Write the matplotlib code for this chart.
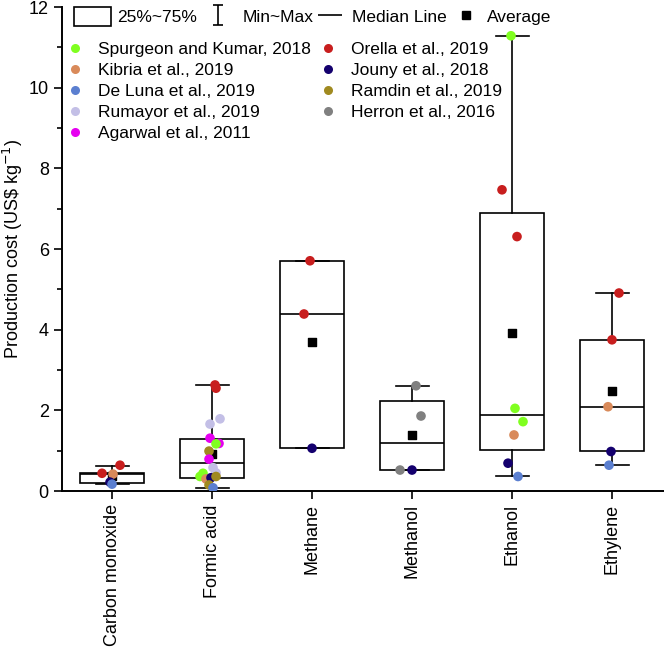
import matplotlib
matplotlib.use("Agg")
import matplotlib.pyplot as plt
from matplotlib.lines import Line2D
from matplotlib.patches import Rectangle
from matplotlib.path import Path
from matplotlib.ticker import MultipleLocator

plt.rcParams['font.family'] = ['Liberation Sans', 'DejaVu Sans']
plt.rcParams['font.size'] = 12.5

# categories on the x axis
products = ['Carbon monoxide', 'Formic acid', 'Methane', 'Methanol', 'Ethanol', 'Ethylene']

# box statistics (US$ per kg)
q1 = [0.21, 0.33, 1.06, 0.52, 1.02, 0.98]
median = [0.41, 0.69, 4.39, 1.18, 1.89, 2.09]
q3 = [0.45, 1.28, 5.71, 2.23, 6.89, 3.75]
whisk_lo = [0.17, 0.08, 1.06, 0.52, 0.36, 0.64]
whisk_hi = [0.63, 2.62, 5.71, 2.61, 11.29, 4.91]
average = [0.38, 0.93, 3.70, 1.39, 3.91, 2.48]

# literature sources and their colours
sources = ['Spurgeon and Kumar, 2018', 'Kibria et al., 2019', 'De Luna et al., 2019',
           'Rumayor et al., 2019', 'Agarwal et al., 2011', 'Orella et al., 2019',
           'Jouny et al., 2018', 'Ramdin et al., 2019', 'Herron et al., 2016']
colors = ['#80FF20', '#D98A5A', '#5B7FD0', '#C3BFE6', '#E600F0',
          '#C81E1E', '#14006E', '#A08A20', '#808080']

# individual reported values: product index, source index, value, small jitter
pt_product = [0, 0, 0, 0, 0,
              1, 1, 1, 1, 1, 1, 1, 1, 1, 1, 1, 1, 1, 1, 1, 1, 1, 1,
              2, 2, 2,
              3, 3, 3, 3,
              4, 4, 4, 4, 4, 4, 4, 4,
              5, 5, 5, 5, 5]
pt_source = [5, 5, 1, 6, 2,
             5, 5, 3, 3, 4, 4, 0, 7, 4, 3, 3, 0, 0, 1, 6, 7, 7, 2,
             5, 5, 6,
             8, 8, 8, 6,
             0, 5, 5, 0, 0, 1, 6, 2,
             5, 5, 1, 6, 2]
pt_value = [0.64, 0.44, 0.42, 0.22, 0.17,
            2.63, 2.55, 1.79, 1.66, 1.31, 1.18, 1.17, 0.99, 0.79, 0.58, 0.45, 0.44, 0.36,
            0.30, 0.33, 0.36, 0.15, 0.08,
            5.71, 4.39, 1.06,
            2.61, 1.86, 0.52, 0.52,
            11.29, 7.47, 6.31, 2.05, 1.72, 1.39, 0.69, 0.36,
            4.91, 3.75, 2.09, 0.98, 0.64]
pt_jitter = [0.08, -0.10, 0.01, -0.02, 0.0,
             0.03, 0.04, 0.08, -0.02, -0.02, 0.07, 0.04, -0.03, -0.03, 0.01, 0.04, -0.09, -0.12,
             -0.06, -0.01, 0.04, -0.03, 0.01,
             -0.02, -0.08, 0.0,
             0.04, 0.09, -0.12, 0.0,
             -0.01, -0.10, 0.05, 0.03, 0.11, 0.02, -0.04, 0.06,
             0.07, 0.0, -0.04, -0.01, -0.03]

fig = plt.figure(figsize=(6.64, 6.5), dpi=100)
ax = fig.add_axes([0.0934, 0.2446, 0.9066, 0.7444])

positions = list(range(1, len(products) + 1))
stats = []
for i in range(len(products)):
    stats.append({'q1': q1[i], 'med': median[i], 'q3': q3[i],
                  'whislo': whisk_lo[i], 'whishi': whisk_hi[i], 'fliers': []})

lw = 1.2
ax.bxp(stats, positions=positions, widths=0.64, showfliers=False, patch_artist=True,
       boxprops=dict(facecolor='white', edgecolor='black', linewidth=lw),
       medianprops=dict(color='black', linewidth=lw),
       whiskerprops=dict(color='black', linewidth=lw),
       capprops=dict(color='black', linewidth=lw), capwidths=0.33, zorder=2)

ax.scatter(positions, average, marker='s', s=30, color='black', zorder=3)

xs = [positions[p] + j for p, j in zip(pt_product, pt_jitter)]
pt_colors = [colors[s] for s in pt_source]
ax.scatter(xs, pt_value, s=48, c=pt_colors, edgecolors='none', zorder=4)

ax.set_xlim(0.5, 6.52)
ax.set_ylim(0, 12)
ax.set_xticks(positions)
ax.set_xticklabels(products, rotation=90, fontsize=13)
ax.yaxis.set_major_locator(MultipleLocator(2))
ax.yaxis.set_minor_locator(MultipleLocator(1))
ax.tick_params(axis='y', labelsize=13)
ax.tick_params(axis='both', which='major', length=6, width=1.2, direction='out')
ax.tick_params(axis='y', which='minor', length=3.5, width=1.2, direction='out')
ax.spines['top'].set_visible(False)
ax.spines['right'].set_visible(False)
ax.spines['left'].set_linewidth(1.4)
ax.spines['bottom'].set_linewidth(1.4)
ax.set_ylabel('Production cost (US\\$ kg$^{-1}$)', fontsize=13, labelpad=2.5)

# first legend row: box, whisker, median, average
ibeam = Path([(0, -1), (0, 1), (-0.5, 1), (0.5, 1), (-0.5, -1), (0.5, -1)],
             [Path.MOVETO, Path.LINETO, Path.MOVETO, Path.LINETO, Path.MOVETO, Path.LINETO])
h_box = Rectangle((0, 0), 1, 1, facecolor='white', edgecolor='black', linewidth=lw)
h_whisk = Line2D([], [], linestyle='none', marker=ibeam, markersize=14,
                 markeredgewidth=lw, color='black')
h_med = Line2D([], [], linestyle='none', marker='_', markersize=17,
               markeredgewidth=lw, color='black')
h_avg = Line2D([], [], linestyle='none', marker='s', markersize=5.5, color='black')
leg1a = ax.legend([h_box, h_whisk], ['25%~75%', 'Min~Max'],
                  ncol=2, frameon=False, loc='upper left', bbox_to_anchor=(0.0, 1.025),
                  handlelength=2.15, handleheight=1.25, handletextpad=0.35,
                  columnspacing=0.1, borderaxespad=0.3)
ax.add_artist(leg1a)
leg1b = ax.legend([h_med, h_avg], ['Median Line', 'Average'],
                  ncol=2, frameon=False, loc='upper left', bbox_to_anchor=(0.4025, 1.025),
                  handlelength=1.6, handleheight=1.25, handletextpad=0.45,
                  columnspacing=0.29, borderaxespad=0.3)
ax.add_artist(leg1b)

src_handles = [Line2D([], [], linestyle='none', marker='o', markersize=6.5,
                      markerfacecolor=c, markeredgecolor='none') for c in colors]
ax.legend(src_handles, sources, ncol=2, frameon=False, loc='upper left',
          bbox_to_anchor=(-0.013, 0.953), handlelength=1.0, handletextpad=0.85,
          columnspacing=0.45, labelspacing=0.34, borderaxespad=0.3)

fig.savefig('out.png', dpi=100)
